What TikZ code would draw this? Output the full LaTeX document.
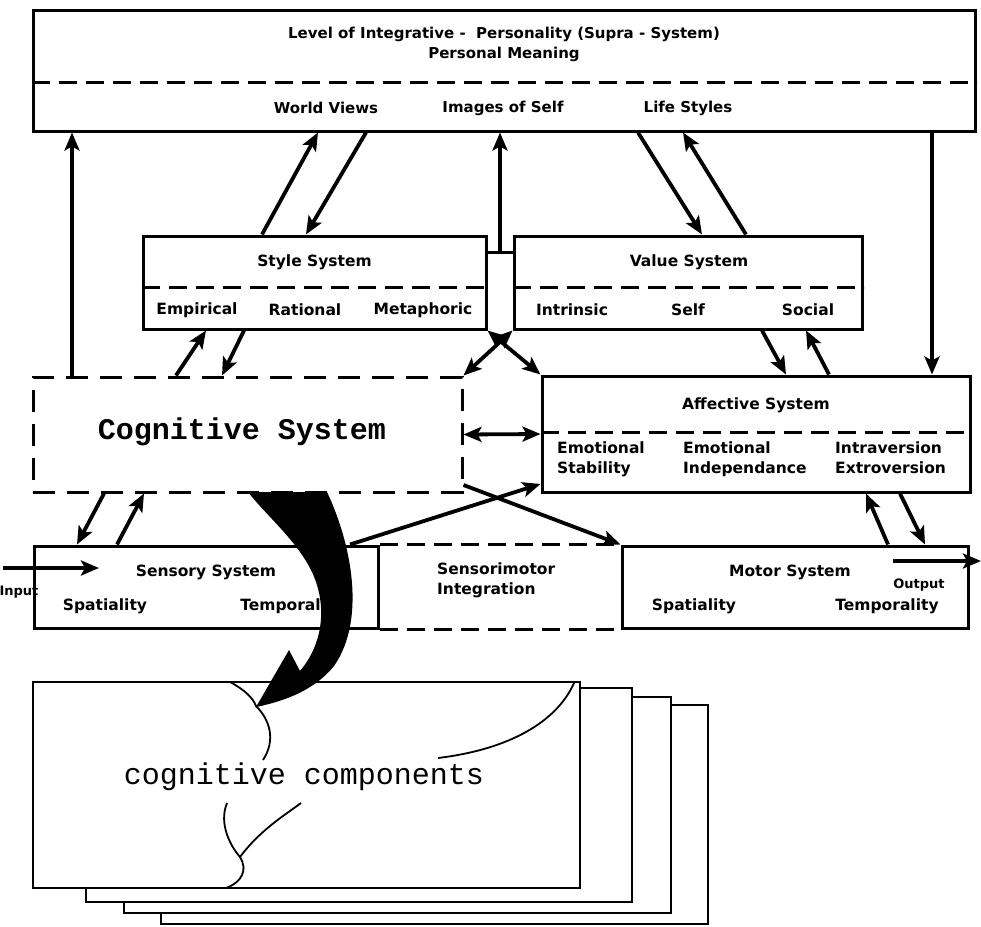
\documentclass[tikz,border=0pt]{standalone}
\usepackage{fontspec}
\setmainfont{DejaVu Sans}
\newfontfamily\monof{Liberation Mono}
\usetikzlibrary{arrows.meta,calc}
\begin{document}
\begin{tikzpicture}[x=1pt,y=-1pt,
  box/.style={draw, line width=3pt, rectangle, inner sep=0pt},
  dbox/.style={draw, line width=3pt, dash pattern=on 22pt off 12pt, rectangle, inner sep=0pt},
  divline/.style={line width=3pt, dash pattern=on 18pt off 9pt},
  lbl/.style={font=\bfseries\fontsize{15.5}{20}\selectfont, inner sep=0pt},
  tlbl/.style={font=\bfseries\fontsize{15}{18}\selectfont, inner sep=0pt},
  slbl/.style={font=\bfseries\fontsize{13}{16}\selectfont, inner sep=0pt},
  arr/.style={line width=3.8pt, -{Stealth[length=18pt,width=15pt,inset=4pt]}},
  darr/.style={line width=3.8pt, {Stealth[length=18pt,width=15pt,inset=4pt]}-{Stealth[length=18pt,width=15pt,inset=4pt]}},
  stk/.style={draw, fill=white, line width=2.2pt, rectangle, inner sep=0pt},
  crack/.style={line width=1.8pt},
]
\useasboundingbox (0,0) rectangle (981,926);

% ---------- top box ----------
\node[box, minimum width=942pt, minimum height=121pt] (top) at (504,70.5) {};
\draw[divline] (top.west |- 0,82) -- (top.east |- 0,82);
\node[tlbl] (t1) at (504,34) {Level of Integrative -\ \ Personality (Supra - System)};
\node[tlbl] (t2) at (504,54) {Personal Meaning};
\node[tlbl] (wv) at (326,108) {World Views};
\node[tlbl] (ios) at (503,108) {Images of Self};
\node[tlbl] (lsy) at (688,108) {Life Styles};

% ---------- style / value ----------
\node[box, minimum width=343pt, minimum height=93pt] (style) at (314.5,282.5) {};
\draw[divline] (style.west |- 0,287) -- (style.east |- 0,287);
\node[lbl] (stt) at (314.5,262) {Style System};
\node[lbl] (emp) at (197,310) {Empirical};
\node[lbl] (rat) at (305,310) {Rational};
\node[lbl] (met) at (423,310) {Metaphoric};

\node[box, minimum width=348pt, minimum height=93pt] (value) at (688,282.5) {};
\draw[divline] (value.west |- 0,287) -- (value.east |- 0,287);
\node[lbl] (vst) at (689,262) {Value System};
\node[lbl] (intr) at (572,310) {Intrinsic};
\node[lbl] (self) at (688,310) {Self};
\node[lbl] (soc) at (808,310) {Social};

% ---------- cognitive / affective ----------
\node[dbox, minimum width=429pt, minimum height=115pt] (cog) at (247.5,434.5) {};
\node[font=\monof\bfseries\fontsize{30}{32}\selectfont, inner sep=0pt] (cst) at (242,432) {Cognitive System};

\node[box, minimum width=428pt, minimum height=116pt] (aff) at (756,434) {};
\draw[divline] (aff.west |- 0,432) -- (aff.east |- 0,432);
\node[lbl] (ast) at (756,405) {Affective System};
\node[lbl, align=left, anchor=north west] (es) at (557,442) {Emotional\\Stability};
\node[lbl, align=left, anchor=north west] (ei) at (683,442) {Emotional\\Independance};
\node[lbl, align=left, anchor=north west] (ie) at (835,442) {Intraversion\\Extroversion};

% ---------- sensory / motor ----------
\node[box, minimum width=344pt, minimum height=82pt] (sens) at (206,587) {};
\node[box, minimum width=346pt, minimum height=82pt] (mot) at (795,587) {};
\draw[divline] (sens.north east) -- (mot.north west);
\draw[divline] (sens.south east) -- (mot.south west);
\node[lbl] (sst) at (206,572) {Sensory System};
\node[lbl] (ssp) at (105,606) {Spatiality};
\node[lbl] (stp) at (292,606) {Temporality};
\node[lbl, align=left, anchor=north west] (smi) at (437,563) {Sensorimotor\\Integration};
\node[lbl] (mst) at (790,572) {Motor System};
\node[lbl] (msp) at (694,606) {Spatiality};
\node[lbl] (mtp) at (887,606) {Temporality};
\node[slbl] (inp) at (19,592) {Input};
\node[slbl] (outp) at (919,585) {Output};
\coordinate (inA) at (3,568);
\coordinate (inB) at (99,568);
\coordinate (outA) at (893,561);
\coordinate (outB) at (981,561);
\draw[arr] (inA) -- (inB);
\draw[arr] (outA) -- (outB);

% ---------- connectors ----------
% top <-> cognitive / affective
\draw[arr] (72,0 |- cog.north) -- (72,0 |- top.south);
\draw[arr] (932,0 |- top.south) -- (932,0 |- aff.north);
% top <-> style
\draw[arr] (262,0 |- style.north) -- (318,0 |- top.south);
\draw[arr] (366,0 |- top.south) -- (306,0 |- style.north);
% top <-> value
\draw[arr] (638,0 |- top.south) -- (702,0 |- value.north);
\draw[arr] (746,0 |- value.north) -- (683,0 |- top.south);
% center column
\draw[line width=3pt] (style.east |- 0,252) -- (value.west |- 0,252);
\draw[arr] (500,252) -- (500,0 |- top.south);
% crossing double arrows
\draw[darr] (cog.north east) -- (value.south west);
\draw[darr] (aff.north west) -- (style.south east);
% cognitive <-> affective
\draw[darr] (cog.east) -- (aff.west);
% style <-> cognitive
\draw[arr] (176,0 |- cog.north) -- (206,0 |- style.south);
\draw[arr] (244,0 |- style.south) -- (222,0 |- cog.north);
% value <-> affective
\draw[arr] (762,0 |- value.south) -- (786,0 |- aff.north);
\draw[arr] (829,0 |- aff.north) -- (806,0 |- value.south);
% cognitive <-> sensory
\draw[arr] (104,0 |- cog.south) -- (77,0 |- sens.north);
\draw[arr] (117,0 |- sens.north) -- (144,0 |- cog.south);
% affective <-> motor
\draw[arr] (888,0 |- mot.north) -- (866,0 |- aff.south);
\draw[arr] (900,0 |- aff.south) -- (925,0 |- mot.north);
% crossing sensory->affective, cognitive->motor
\draw[arr] (350,0 |- sens.north) -- (aff.west |- 0,484);
\draw[arr] (cog.east |- 0,485) -- (mot.north west);

% ---------- cognitive components stack ----------
\node[stk, minimum width=547pt, minimum height=219pt] (c4) at (434.5,814.5) {};
\node[stk, minimum width=547pt, minimum height=216pt] (c3) at (397.5,805) {};
\node[stk, minimum width=546pt, minimum height=214pt] (c2) at (359,795) {};
\node[stk, minimum width=547pt, minimum height=206pt] (c1) at (306.5,785) {};
\node[font=\monof\fontsize{30}{32}\selectfont, inner sep=0pt] (cc) at (304,777) {cognitive components};
\draw[crack] (230,682) .. controls (245,690) and (253,698) .. (256,706) .. controls (270,720) and (276,740) .. (263,760);
\draw[crack] (574,683) .. controls (560,715) and (520,748) .. (438,758);
\draw[crack] (227,803) .. controls (218,825) and (232,848) .. (240,857) .. controls (248,870) and (242,882) .. (226,888);
\draw[crack] (240,857) .. controls (260,830) and (285,815) .. (301,803);

% ---------- big black arrow ----------
\fill[black] (248,492) -- (327,492) .. controls (352,545) and (366,620) .. (334,666)
  .. controls (316,688) and (290,700) .. (256,707) -- (289,650) -- (300,671)
  .. controls (326,640) and (326,600) .. (311,570) .. controls (296,540) and (266,515) .. cycle;
\end{tikzpicture}
\end{document}
